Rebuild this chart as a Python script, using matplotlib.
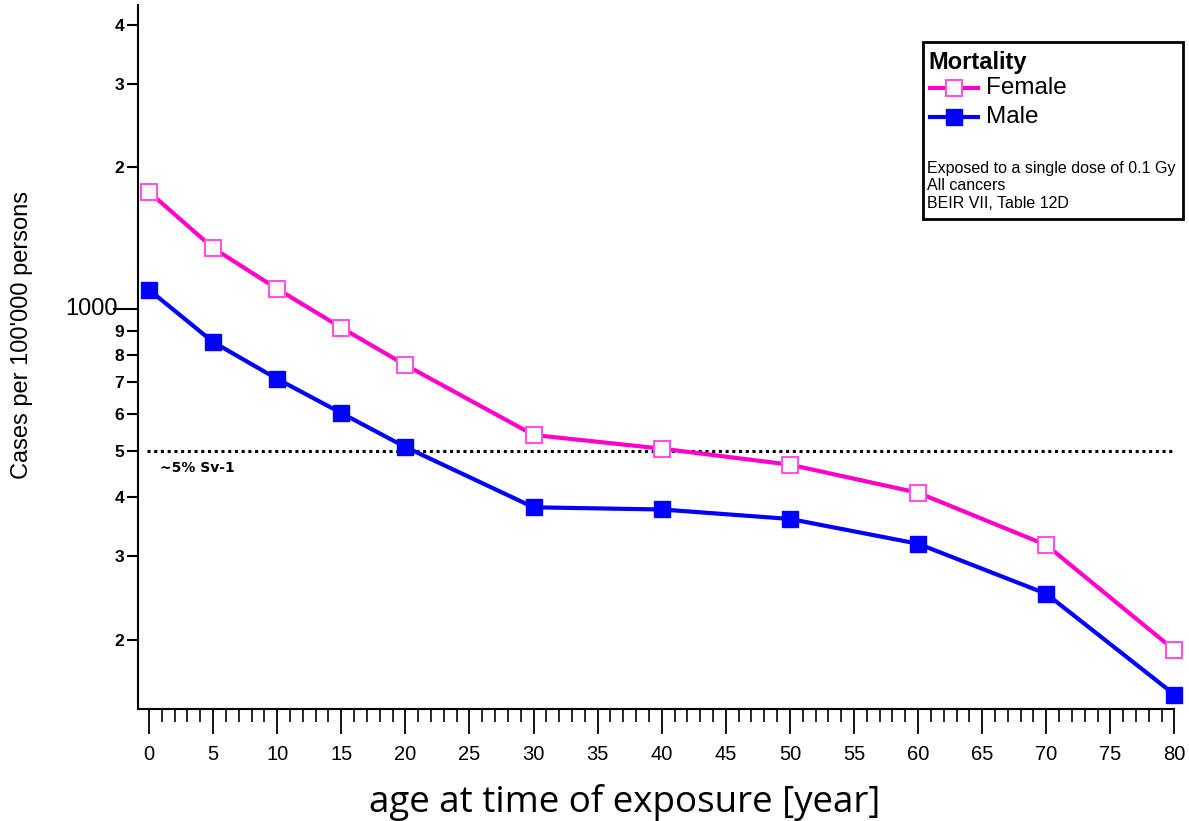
import matplotlib
matplotlib.use("Agg")
import matplotlib.pyplot as plt
from matplotlib.ticker import FixedLocator, MultipleLocator, NullLocator
from matplotlib.lines import Line2D

ages = [0, 5, 10, 15, 20, 30, 40, 50, 60, 70, 80]
female = [1770, 1347, 1104, 914, 762, 542, 507, 469, 409, 317, 190]
male = [1099, 852, 712, 603, 511, 381, 377, 360, 319, 250, 153]
ref_level = 500
ytick_vals = [200, 300, 400, 500, 600, 700, 800, 900, 1000, 2000, 3000, 4000]
ytick_labels = ["2", "3", "4", "5", "6", "7", "8", "9", "1000", "2", "3", "4"]
xtick_vals = list(range(0, 81, 5))

PINK = "#FF00CC"
BLUE = "#0000FF"
FONT = ["Liberation Sans", "DejaVu Sans"]

W, H = 1189, 821
fig = plt.figure(figsize=(W / 100, H / 100), dpi=100)
ax_l, ax_r, ax_t, ax_b = 138, 1174.5, 5, 708.5
ax = fig.add_axes([ax_l / W, 1 - ax_b / H, (ax_r - ax_l) / W, (ax_b - ax_t) / H])
ax.set_yscale("log")
ax.set_xlim(-0.86, 80)
ax.set_ylim(143, 4400)

for s in ["top", "right"]:
    ax.spines[s].set_visible(False)
for s in ["left", "bottom"]:
    ax.spines[s].set_linewidth(1.5)

ax.plot(ages, female, color=PINK, lw=3, marker="s", ms=11, mfc="white",
        mec="#FF55DD", mew=1.5, clip_on=False, zorder=3)
ax.plot(ages, male, color=BLUE, lw=3, marker="s", ms=11, mfc=BLUE,
        mec=BLUE, mew=1, clip_on=False, zorder=4)

ax.hlines(ref_level, -0.15, 79.8, colors="black", linestyles=(0, (1, 1.2)), lw=2.2, zorder=2)
ax.text(0.85, 478, "~5% Sv-1", fontsize=10, fontweight="bold", family=["DejaVu Sans"],
        ha="left", va="top")

ax.yaxis.set_major_locator(FixedLocator(ytick_vals))
ax.yaxis.set_minor_locator(NullLocator())
ax.set_yticklabels(["" if t == "1000" else t for t in ytick_labels])
ax.tick_params(axis="y", which="major", direction="out", length=8, width=1.5, pad=2)
for val, lab_text, tk in zip(ytick_vals, ytick_labels, ax.yaxis.get_major_ticks()):
    lab = tk.label1
    lab.set_family(FONT)
    lab.set_fontsize(12.5)
    lab.set_fontweight("bold")
    if lab_text == "1000":
        tk.tick1line.set_markersize(18)
        ax.annotate(lab_text, xy=(0, val), xycoords=ax.get_yaxis_transform(),
                    xytext=(-20, 0), textcoords="offset pixels", ha="right", va="center",
                    fontsize=17, family=FONT, annotation_clip=False)

ax.xaxis.set_major_locator(FixedLocator(xtick_vals))
ax.xaxis.set_minor_locator(MultipleLocator(1))
ax.set_xticklabels([str(v) for v in xtick_vals])
ax.tick_params(axis="x", which="major", direction="out", length=18, width=1.3, pad=8)
ax.tick_params(axis="x", which="minor", direction="out", length=9, width=1.2)
for lab in ax.get_xticklabels():
    lab.set_fontsize(14.5)
    lab.set_family(FONT)

fig.text(22 / W, 1 - 335 / H, "Cases per 100'000 persons", rotation=90, fontsize=17,
         family=FONT, ha="center", va="center")
fig.text(625 / W, 1 - 802 / H, "age at time of exposure [year]", fontsize=26.5,
         family=["Open Sans", "DejaVu Sans"], ha="center", va="center")

# legend box
bx0, by0, bx1, by1 = 923, 42, 1183, 219
box = plt.Rectangle((bx0 / W, 1 - by1 / H), (bx1 - bx0) / W, (by1 - by0) / H,
                    transform=fig.transFigure, fill=False, ec="black", lw=2, zorder=10)
fig.add_artist(box)
fig.text(928 / W, 1 - 62 / H, "Mortality", fontsize=17, fontweight="bold", family=FONT,
         ha="left", va="center")
for yy, col, mfc, mec, lab in [(88, PINK, "white", "#FF55DD", "Female"), (117, BLUE, BLUE, BLUE, "Male")]:
    fig.add_artist(Line2D([930 / W, 978 / W], [1 - yy / H, 1 - yy / H], transform=fig.transFigure,
                          color=col, lw=3))
    fig.add_artist(Line2D([954 / W], [1 - yy / H], transform=fig.transFigure, marker="s",
                          ms=11, mfc=mfc, mec=mec, mew=1.5 if mfc == "white" else 1, lw=0))
    fig.text(986 / W, 1 - yy / H, lab, fontsize=17.5, family=FONT, ha="left", va="center")
for yy, t in [(169, "Exposed to a single dose of 0.1 Gy"), (186, "All cancers"), (203, "BEIR VII, Table 12D")]:
    fig.text(927 / W, 1 - yy / H, t, fontsize=11.5, family=FONT, ha="left", va="center")

fig.savefig("out.png", dpi=100)
